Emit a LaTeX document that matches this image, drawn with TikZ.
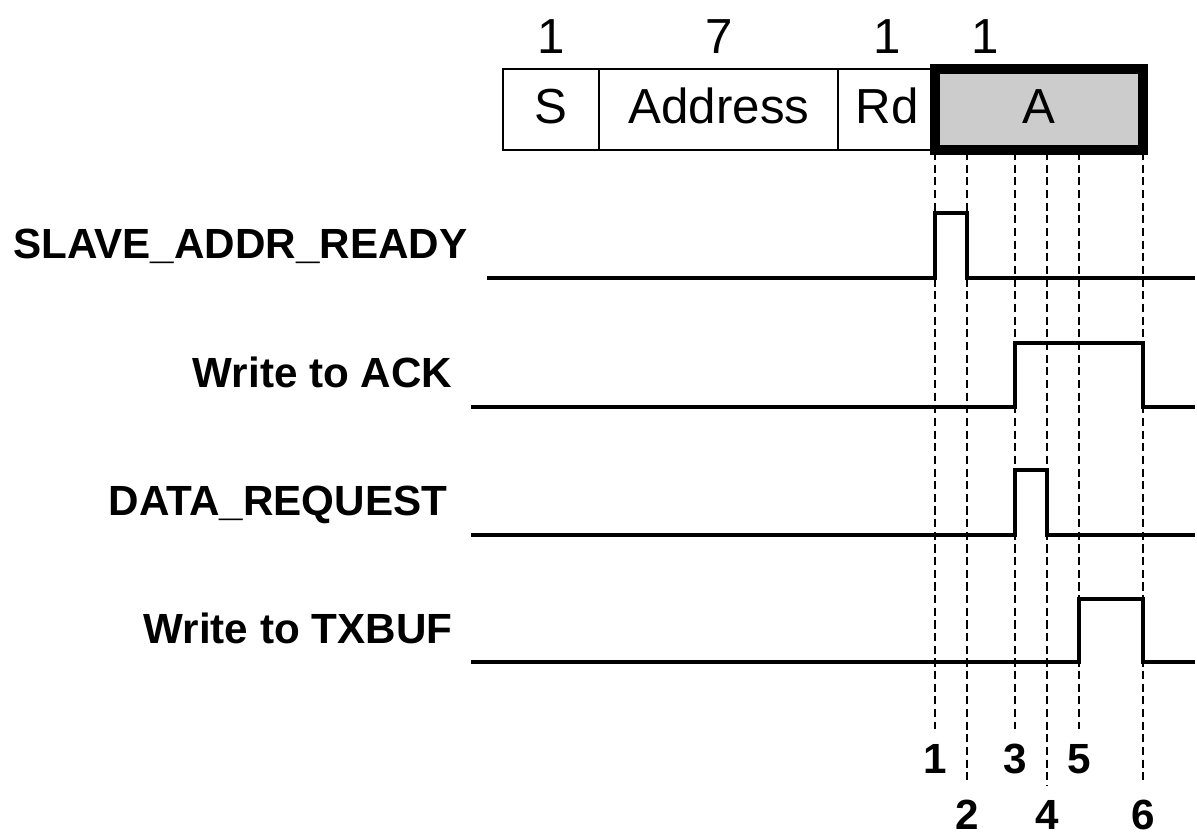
\documentclass[tikz,border=0pt]{standalone}
\usepackage{fontspec}
\setmainfont{Liberation Sans}
\begin{document}
\begin{tikzpicture}[x=0.01cm,y=-0.01cm,
  sig/.style={line width=1.2pt},
  tick/.style={line width=0.6pt,dash pattern=on 2.3pt off 1.3pt},
  lbl/.style={font=\bfseries\fontsize{12}{14}\selectfont,anchor=base east,inner sep=0pt},
  fld/.style={font=\fontsize{14}{16}\selectfont,anchor=base,inner sep=0pt},
  num/.style={font=\bfseries\fontsize{12}{14}\selectfont,anchor=base,inner sep=0pt}]
\useasboundingbox (0,0) rectangle (1197,835);
\draw[line width=0.45pt] (503,69) rectangle (935,150);
\draw[line width=0.45pt] (599,69) -- (599,150) (838,69) -- (838,150);
\draw[line width=3.1pt,fill=black!20] (935,69) rectangle (1143,150);
\node[fld] (s) at (551,123) {S};
\node[fld] (addr) at (719,123) {Address};
\node[fld] (rd) at (887,123) {Rd};
\node[fld] (ack) at (1039,123) {A};
\node[fld] (ns) at (551,53) {1};
\node[fld] (naddr) at (719,53) {7};
\node[fld] (nrd) at (887,53) {1};
\node[fld] (nack) at (985,53) {1};
\foreach \x/\n/\y in {935/1/773,967/2/829,1015/3/773,1047/4/829,1079/5/773,1143/6/829}{
  \node[num] (t\n) at (\x,\y) {\n};
  \draw[tick] (\x,152) -- ([yshift=4pt]t\n.north);
}
\node[lbl] (ready) at (468,258) {SLAVE\_ADDR\_READY};
\node[lbl] (wack) at (453,387) {Write to ACK};
\node[lbl] (dreq) at (448,515) {DATA\_REQUEST};
\node[lbl] (wtx) at (453,643) {Write to TXBUF};
\draw[sig] (487,278) -- (935,278) -- (935,213) -- (967,213) -- (967,278) -- (1195,278);
\draw[sig] (471,407) -- (1015,407) -- (1015,343) -- (1143,343) -- (1143,407) -- (1195,407);
\draw[sig] (471,535) -- (1015,535) -- (1015,470) -- (1047,470) -- (1047,535) -- (1195,535);
\draw[sig] (471,662) -- (1079,662) -- (1079,599) -- (1143,599) -- (1143,662) -- (1195,662);
\end{tikzpicture}
\end{document}
